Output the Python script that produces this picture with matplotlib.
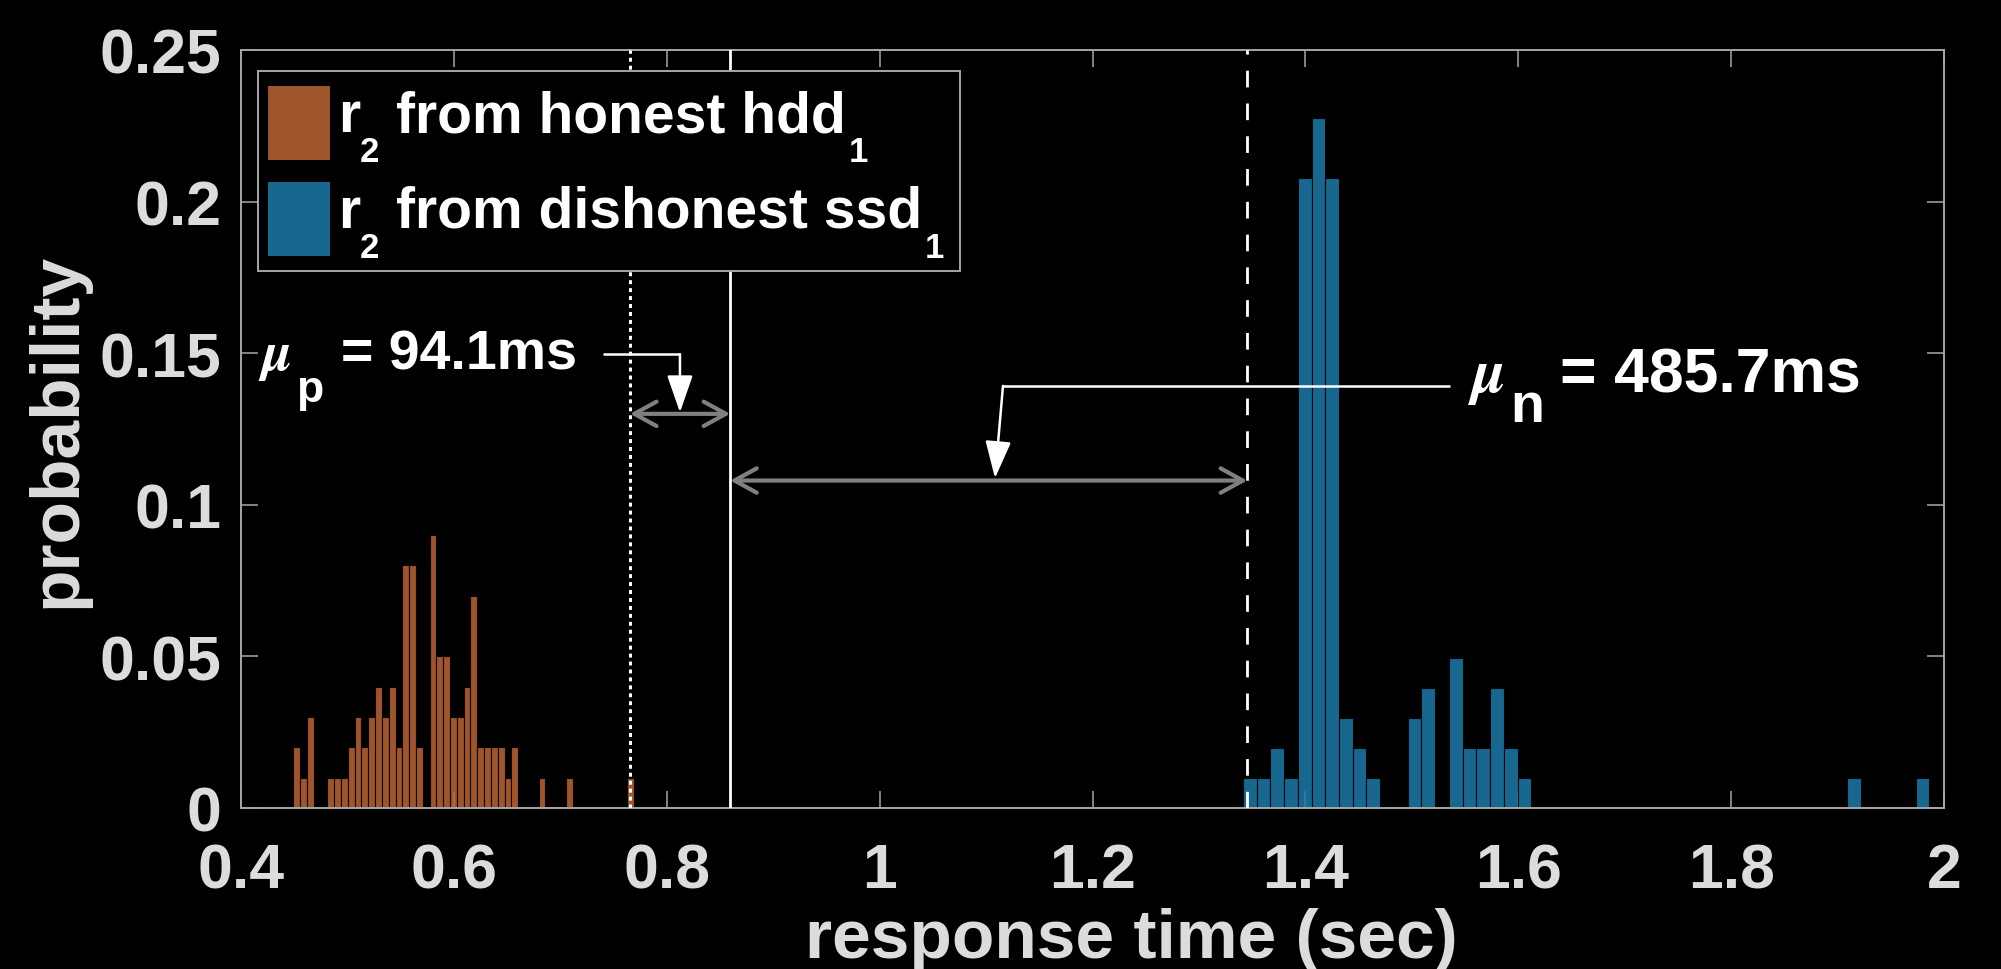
import matplotlib
matplotlib.use("Agg")
import matplotlib.pyplot as plt
from matplotlib.patches import Rectangle
import numpy as np

plt.rcParams['font.family'] = ['Liberation Sans', 'DejaVu Sans']
plt.rcParams['font.weight'] = 'bold'
plt.rcParams['mathtext.fontset'] = 'stix'

# ---------------- data ----------------
hdd_start = 0.4492
hdd_bin = 0.0064
hdd_prob = [0.02, 0.01, 0.03, 0, 0, 0.01, 0.01, 0.01, 0.02, 0.03,
            0.02, 0.03, 0.04, 0.03, 0.04, 0.02, 0.08, 0.08, 0.02, 0,
            0.09, 0.05, 0.05, 0.03, 0.03, 0.04, 0.07, 0.02, 0.02, 0.02,
            0.02, 0.01, 0.02, 0, 0, 0, 0.01, 0, 0, 0,
            0.01, 0, 0, 0, 0, 0, 0, 0, 0, 0.01]

ssd_start = 1.3413
ssd_bin = 0.0129
ssd_prob = [0.0099, 0.0099, 0.0198, 0.0099, 0.2079, 0.2277, 0.2079, 0.0297, 0.0198, 0.0099,
            0, 0, 0.0297, 0.0396, 0, 0.0495, 0.0198, 0.0198, 0.0396, 0.0198,
            0.0099, 0, 0, 0, 0, 0, 0, 0, 0, 0,
            0, 0, 0, 0, 0, 0, 0, 0, 0, 0,
            0, 0, 0, 0, 0.0099, 0, 0, 0, 0, 0.0099]

threshold = 0.8596      # solid line (sec)
mu_p = 0.0941           # sec
mu_n = 0.4857           # sec

xticks = [0.4, 0.6, 0.8, 1.0, 1.2, 1.4, 1.6, 1.8, 2.0]
xticklabels = ['0.4', '0.6', '0.8', '1', '1.2', '1.4', '1.6', '1.8', '2']
yticks = [0, 0.05, 0.1, 0.15, 0.2, 0.25]
yticklabels = ['0', '0.05', '0.1', '0.15', '0.2', '0.25']

series_names = [('r', '2', 'from honest hdd', '1'),
                ('r', '2', 'from dishonest ssd', '1')]
mu_p_label = ('p', '= 94.1ms')
mu_n_label = ('n', '= 485.7ms')

# ---------------- style ----------------
orange = '#BC6533'
blue = '#1C7AA9'
bar_alpha = 0.85
spine_col = '#a6a6a6'
label_col = '#dcdcdc'
gray_arrow = '#808080'

fig = plt.figure(figsize=(20.01, 9.70), dpi=100, facecolor='black')
ax = fig.add_axes([241 / 2001, (970 - 809) / 970, 1703 / 2001, 758 / 970])
ax.set_facecolor('black')

hdd_edges = hdd_start + hdd_bin * np.arange(len(hdd_prob))
ssd_edges = ssd_start + ssd_bin * np.arange(len(ssd_prob))
ax.bar(hdd_edges, hdd_prob, width=hdd_bin, align='edge', color=orange,
       alpha=bar_alpha, edgecolor='black', linewidth=0.8, zorder=2)
ax.bar(ssd_edges, ssd_prob, width=ssd_bin, align='edge', color=blue,
       alpha=bar_alpha, edgecolor='black', linewidth=0.8, zorder=2)

ax.set_xlim(0.4, 2.0)
ax.set_ylim(0, 0.25)
ax.set_xticks(xticks)
ax.set_xticklabels(xticklabels)
ax.set_yticks(yticks)
ax.set_yticklabels(yticklabels)
ax.set_axisbelow(True)
ax.tick_params(direction='in', length=12, width=1.1, colors=spine_col,
               labelcolor=label_col, labelsize=45, pad=14,
               top=True, right=True)
ax.tick_params(axis='x', pad=24)
for s in ax.spines.values():
    s.set_color(spine_col)
    s.set_linewidth(1.4)

ax.set_xlabel('response time (sec)', fontsize=50, color=label_col, fontweight='bold')
ax.set_ylabel('probability', fontsize=50, color=label_col, fontweight='bold')
ax.xaxis.set_label_coords(0.5226, -0.130)
ax.yaxis.set_label_coords(-0.089, 0.5)

# vertical reference lines
x_dot = threshold - mu_p
x_dash = threshold + mu_n
ax.axvline(x_dot, color='white', lw=2.2, ls=(0, (1.3, 1.3)), zorder=4)
ax.axvline(threshold, color='white', lw=2.0, zorder=4)
ax.axvline(x_dash, color='white', lw=2.0, ls=(0, (6, 5.8)), zorder=4)

# gray double arrows
y_p_arrow = 0.130
y_n_arrow = 0.108
for x0, x1, yy in [(x_dot, threshold, y_p_arrow), (threshold, x_dash, y_n_arrow)]:
    ax.annotate('', xy=(x1, yy), xytext=(x0, yy),
                arrowprops=dict(arrowstyle='<->,head_length=0.4,head_width=0.22',
                                color=gray_arrow, lw=3, mutation_scale=40,
                                shrinkA=0, shrinkB=0), zorder=4)

# white leader lines + arrows
lp_x = [0.7401, 0.8124]
lp_y = [0.1497, 0.1497]
ax.plot(lp_x, lp_y, color='white', lw=1.8, zorder=4, solid_capstyle='butt')
ax.annotate('', xy=(0.8124, y_p_arrow + 0.0005), xytext=(0.8124, 0.1497),
            arrowprops=dict(arrowstyle='-|>,head_length=1.15,head_width=0.4',
                            color='white', lw=1.8, mutation_scale=20,
                            shrinkA=0, shrinkB=0), zorder=4)
ln_x = [1.1159, 1.5358]
ln_y = [0.1392, 0.1392]
ax.plot(ln_x, ln_y, color='white', lw=1.8, zorder=4, solid_capstyle='butt')
ax.annotate('', xy=(1.1084, y_n_arrow + 0.0008), xytext=(1.1159, 0.1392),
            arrowprops=dict(arrowstyle='-|>,head_length=1.15,head_width=0.4',
                            color='white', lw=1.8, mutation_scale=20,
                            shrinkA=0, shrinkB=0), zorder=4)


def chain(x, y, coords, pieces, zorder=6):
    s, size, dx, dy, kw = pieces[0]
    t = ax.annotate(s, xy=(x, y), xycoords=coords, xytext=(dx, dy),
                    textcoords='offset points', fontsize=size, va='baseline',
                    ha='left', color='white', zorder=zorder, **kw)
    for s, size, dx, dy, kw in pieces[1:]:
        t = ax.annotate(s, xy=(1, y), xycoords=(t, coords), xytext=(dx, dy),
                        textcoords='offset points', fontsize=size, va='baseline',
                        ha='left', color='white', zorder=zorder, **kw)
    return t


bold = dict(fontweight='bold')
thin = dict(fontweight='light')
# mu_p annotation
chain(0.416, 0.1448, 'data', [
    (r'$\mu$', 40, 0, 0, thin),
    (mu_p_label[0], 32, 3, -23, bold),
    (mu_p_label[1], 40, 13, 0, bold),
])
# mu_n annotation
chain(1.5518, 0.1375, 'data', [
    (r'$\mu$', 45, 0, 0, thin),
    (mu_n_label[0], 40, 4, -21.6, bold),
    (mu_n_label[1], 45, 12, 0, bold),
])

# legend (manual, to reproduce the lowered subscripts)
ax.add_patch(Rectangle((0.010, 0.708), 0.412, 0.264, transform=ax.transAxes,
                       facecolor='black', edgecolor=spine_col, lw=1.4, zorder=5))
sw_colors = [orange, blue]
sw_bottoms = [0.855, 0.728]
row_base = [0.893, 0.7665]
for (r, sub, txt, sub2), c, b, yb in zip(series_names, sw_colors, sw_bottoms, row_base):
    ax.add_patch(Rectangle((0.0159, b), 0.0364, 0.0976, transform=ax.transAxes,
                           facecolor=c, alpha=bar_alpha, edgecolor='none', zorder=6))
    chain(0.057, yb, 'axes fraction', [
        (r, 41, 0, 0, bold),
        (sub, 25, 0, -21.6, bold),
        (txt, 41, 12, 0, bold),
        (sub2, 25, 2, -21.6, bold),
    ], zorder=7)

fig.savefig('out.png', dpi=100, facecolor='black')
